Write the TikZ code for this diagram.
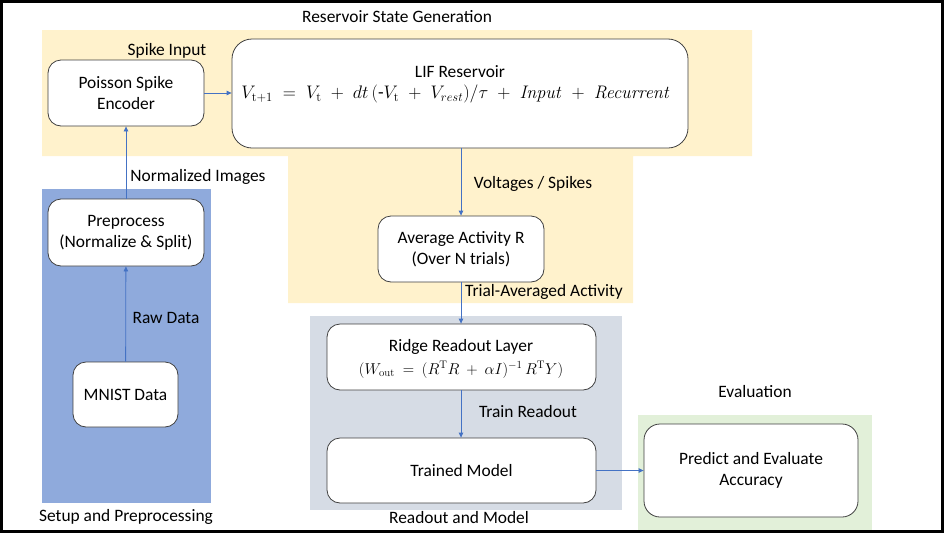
\documentclass[tikz,border=0pt]{standalone}
\usepackage{amsmath}
\usepackage{graphicx}
\usepackage[no-math]{fontspec}
\setmainfont{Carlito}
\usetikzlibrary{arrows.meta}
\definecolor{yel}{HTML}{FFF2CC}
\definecolor{blu}{HTML}{8FAADC}
\definecolor{gry}{HTML}{D6DCE5}
\definecolor{grn}{HTML}{E2F0D9}
\definecolor{arr}{HTML}{4472C4}
\definecolor{edge}{HTML}{404040}
\tikzset{
  box/.style={draw=edge, fill=white, line width=0.8pt, rounded corners=13pt, align=center, inner sep=0pt},
  lbl/.style={inner sep=0pt, align=center},
  flow/.style={draw=arr, line width=0.8pt, -{Triangle[length=5pt,width=4.5pt]}},
}
\begin{document}
\begin{tikzpicture}[x=1pt,y=-1pt,font=\fontsize{17.4}{21}\selectfont]
\useasboundingbox (0,0) rectangle (944,533);
% regions
\fill[yel] (42,30) -- (752,30) -- (752,156) -- (633,156) -- (633,303) -- (288,303) -- (288,156) -- (42,156) -- cycle;
\fill[blu] (42,189) rectangle (211,503);
\fill[gry] (310,316) rectangle (622,510);
\fill[grn] (638,415) rectangle (872,530);
\draw[line width=2.5pt] (1.5,1.5) rectangle (942.5,531.5);
% boxes
\node[box, minimum width=156pt, minimum height=66pt] (poisson) at (126,93) {Poisson Spike\\Encoder};
\node[box, minimum width=456pt, minimum height=109pt, rounded corners=20pt] (lif) at (460,93.5) {};
\node[lbl] (liftitle) at (460,72) {LIF Reservoir};
\node[lbl] (lifeq) at (456,94) {\scalebox{1.05}{$V_{\mathrm{t+1}} \;=\; V_{\mathrm{t}} \;+\; dt\,(\text{-}V_{\mathrm{t}} \;+\; V_{rest})/\tau \;+\; \mathit{Input} \;+\; \mathit{Recurrent}$}};
\node[box, minimum width=269pt, minimum height=66pt] (ridge) at (461.5,357) {};
\node[lbl] (ridgetitle) at (461,347) {Ridge Readout Layer};
\node[lbl] (ridgeeq) at (461,370) {\scalebox{0.91}{$(W_{\mathrm{out}} \:=\: (R^{\mathrm{T}}R \:+\: \alpha I)^{-1}\, R^{\mathrm{T}}Y)$}};
\node[box, minimum width=166pt, minimum height=66pt] (avg) at (461,249) {Average Activity R\\(Over N trials)};
\node[box, minimum width=269pt, minimum height=65pt] (trained) at (461.5,470.5) {Trained Model};
\node[box, minimum width=214pt, minimum height=93pt, rounded corners=16pt] (predict) at (751,470.5) {Predict and Evaluate\\Accuracy};
\node[box, minimum width=156pt, minimum height=67pt] (prep) at (126,232.5) {Preprocess\\(Normalize \& Split)};
\node[box, minimum width=105pt, minimum height=65pt] (mnist) at (125.5,394.5) {MNIST Data};
% connectors
\draw[flow] (mnist) -- (prep);
\draw[flow] (prep) -- (poisson);
\draw[flow] (poisson) -- (lif.west |- poisson);
\draw[flow] (lif.south -| avg) -- (avg);
\draw[flow] (avg) -- (ridge.north -| avg);
\draw[flow] (ridge.south -| avg) -- (trained.north -| avg);
\draw[flow] (trained) -- (predict);
% labels
\node[lbl] (t1) at (397,17) {Reservoir State Generation};
\node[lbl] (t2) at (167,51) {Spike Input};
\node[lbl] (t3) at (198,177) {Normalized Images};
\node[lbl] (t4) at (166,318) {Raw Data};
\node[lbl] (t5) at (126,517) {Setup and Preprocessing};
\node[lbl] (t6) at (533,184) {Voltages / Spikes};
\node[lbl] (t7) at (544,292) {Trial-Averaged Activity};
\node[lbl] (t8) at (528,412) {Train Readout};
\node[lbl] (t9) at (459,518) {Readout and Model};
\node[lbl] (t10) at (755,392) {Evaluation};
\end{tikzpicture}
\end{document}
